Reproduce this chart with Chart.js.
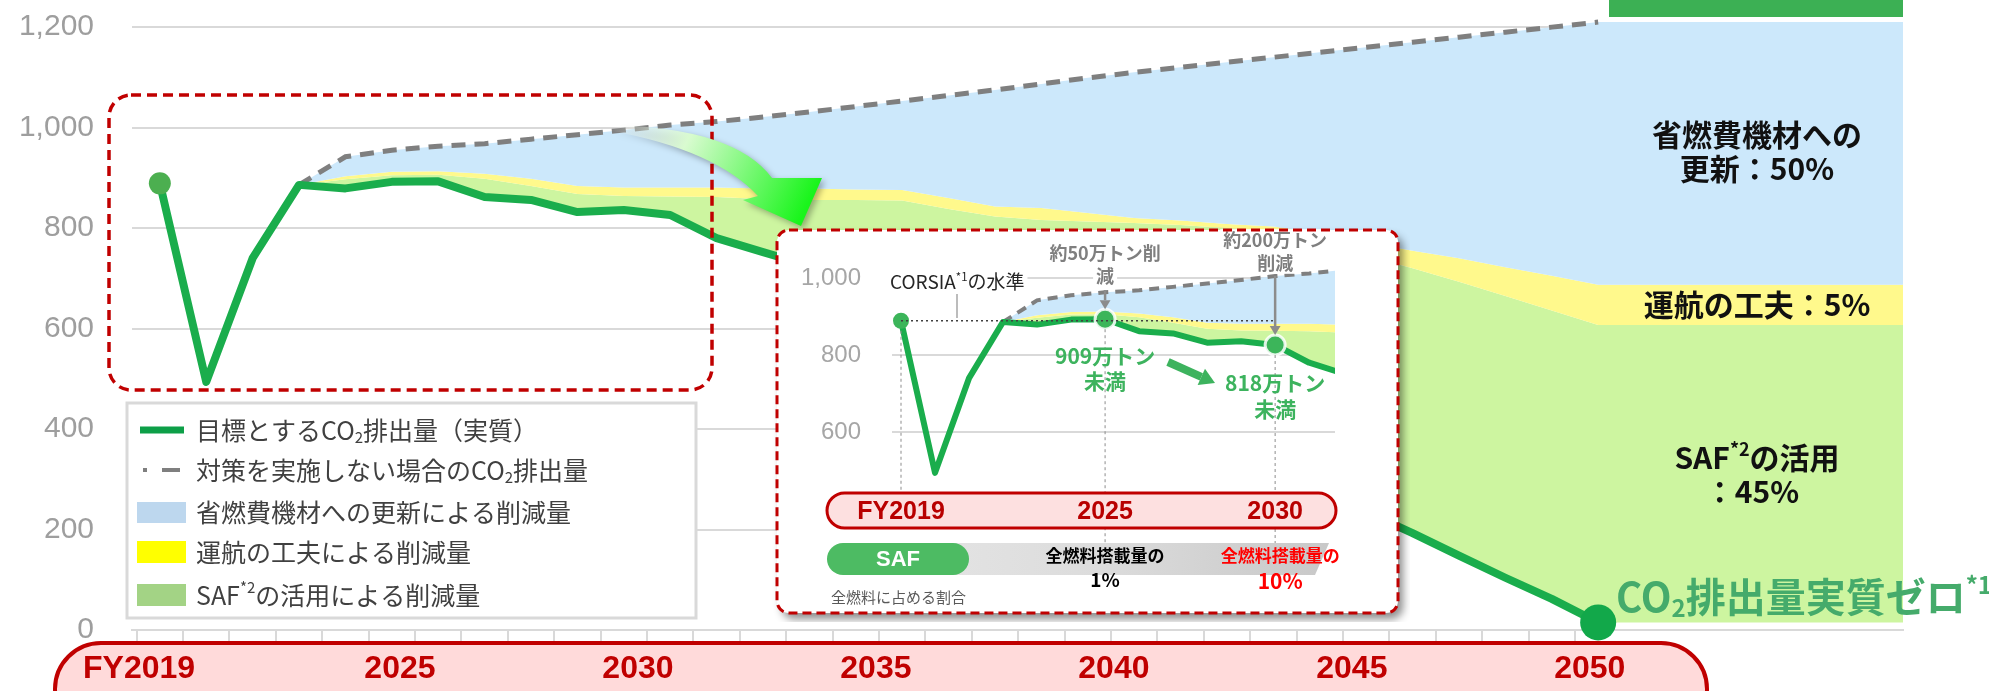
<!DOCTYPE html>
<html lang="ja">
<head>
<meta charset="UTF-8">
<title>CO2排出量削減の道筋</title>
<script src="https://cdn.jsdelivr.net/npm/chart.js"></script>
<style>
  html, body { margin: 0; padding: 0; background: #fff; overflow: hidden; }
  #wrap { position: relative; width: 1989px; height: 691px; }
  #mainChart { position: absolute; left: 0; top: 0; }
  #insetChart { position: absolute; left: 770px; top: 222px; }
</style>
</head>
<body>
<div id="wrap">
  <canvas id="mainChart" width="1989" height="691"></canvas>
  <canvas id="insetChart" width="640" height="400"></canvas>
</div>
<script>
// 年度（万トン単位の値）
const YEARS = [2019, 2020, 2021, 2022, 2023, 2024, 2025, 2026, 2027, 2028, 2029, 2030, 2031, 2032, 2033, 2034,
  2035, 2036, 2037, 2038, 2039, 2040, 2041, 2042, 2043, 2044, 2045, 2046, 2047, 2048, 2049, 2050];
// 目標とするCO2排出量（実質）
const NET = [889, 494, 740, 886, 879, 892, 893, 862, 856, 832, 836, 826, 780, 752, 725, 700,
  668, 630, 590, 545, 500, 455, 410, 365, 318, 272, 235, 193, 148, 104, 62, 15];
// 2022年度以降の削減帯
const BAND_YEARS = YEARS.slice(3);
const SAF_TOP = [886, 897, 905, 906, 898, 884, 868, 864, 863, 862, 858, 856, 856, 855, 838, 823, 816, 813, 810,
  806, 800, 793, 775, 745, 720, 693, 665, 636, 607];
const YEL_TOP = [886, 903, 912, 913, 908, 898, 884, 881, 881, 881, 879, 879, 877, 876, 860, 843, 840, 830, 820,
  815, 808, 803, 790, 772, 755, 740, 722, 705, 687];
// 対策を実施しない場合のCO2排出量
const BAU = [886, 942, 955, 963, 968, 977, 986, 995, 1005, 1012, 1021, 1031, 1042, 1053, 1064, 1075, 1087, 1099,
  1110, 1120, 1130, 1140, 1150, 1160, 1170, 1180, 1190, 1200, 1210];

const Y_TICKS = [0, 200, 400, 600, 800, 1000, 1200];
const AXIS_YEARS = [2019, 2025, 2030, 2035, 2040, 2045, 2050];
const AXIS_LABELS = ['FY2019', '2025', '2030', '2035', '2040', '2045', '2050'];
const INSET_Y_TICKS = [600, 800, 1000];
const INSET_YEARS = [2019, 2025, 2030];
const INSET_LABELS = ['FY2019', '2025', '2030'];
const CORSIA_END = 2030;

const LEGEND_TEXT = [
  ['目標とするCO', '_2', '排出量（実質）'],
  ['対策を実施しない場合のCO', '_2', '排出量'],
  ['省燃費機材への更新による削減量'],
  ['運航の工夫による削減量'],
  ['SAF', '^*2', 'の活用による削減量']
];

// 軸の範囲
const X_MIN = 2018.4, X_MAX = 2056.57;
const XB_MIN = 2019.37, XB_MAX = 2056.58;
const Y_MAX = 1254;

const JP = '"Noto Sans CJK JP", "Noto Sans", sans-serif';
const LAT = '"Liberation Sans", Arial, sans-serif';
const C = {
  net: '#1aad4c', bau: '#7f7f7f', blue: '#cce8fb', yellow: '#fff98c', saf: '#cdf5a0',
  red: '#c00000', grid: '#d9d9d9', tick: '#9e9e9e', green: '#3db35e'
};

function pts(xs, ys) { return xs.map((x, i) => ({ x: x, y: ys[i] })); }
// 2050年度以降は右端まで同じ値で塗る
function areaData(vals) { return pts(BAND_YEARS, vals).concat([{ x: X_MAX, y: vals[vals.length - 1] }]); }

function rr(ctx, x, y, w, h, r) {
  ctx.beginPath();
  ctx.moveTo(x + r, y);
  ctx.arcTo(x + w, y, x + w, y + h, r);
  ctx.arcTo(x + w, y + h, x, y + h, r);
  ctx.arcTo(x, y + h, x, y, r);
  ctx.arcTo(x, y, x + w, y, r);
  ctx.closePath();
}

// 下付き(_)・上付き(^)を含む文字列
function rich(ctx, parts, x, y, size, o) {
  const weight = o.weight || 'normal', family = o.family || JP;
  const pcs = parts.map(p => {
    if (p[0] === '_') return { t: p.slice(1), s: size * 0.6, dy: size * 0.28 };
    if (p[0] === '^') return { t: p.slice(1), s: size * 0.6, dy: -size * 0.3 };
    return { t: p, s: size, dy: 0 };
  });
  let w = 0;
  pcs.forEach(p => { ctx.font = weight + ' ' + p.s + 'px ' + family; p.w = ctx.measureText(p.t).width; w += p.w; });
  let cx = o.align === 'center' ? x - w / 2 : x;
  if (o.bg) { ctx.fillStyle = o.bg; ctx.fillRect(cx - 3, y - size * 0.6, w + 6, size * 1.2); }
  ctx.textAlign = 'left';
  ctx.textBaseline = 'middle';
  ctx.fillStyle = o.color;
  pcs.forEach(p => { ctx.font = weight + ' ' + p.s + 'px ' + family; ctx.fillText(p.t, cx, y + p.dy); cx += p.w; });
}

function arrow(ctx, x1, y1, x2, y2, w, head, color) {
  const a = Math.atan2(y2 - y1, x2 - x1);
  const bx = x2 - head * Math.cos(a), by = y2 - head * Math.sin(a);
  ctx.strokeStyle = color; ctx.fillStyle = color; ctx.lineWidth = w;
  ctx.beginPath(); ctx.moveTo(x1, y1); ctx.lineTo(bx, by); ctx.stroke();
  ctx.beginPath(); ctx.moveTo(x2, y2);
  ctx.lineTo(bx + head * 0.6 * Math.sin(a), by - head * 0.6 * Math.cos(a));
  ctx.lineTo(bx - head * 0.6 * Math.sin(a), by + head * 0.6 * Math.cos(a));
  ctx.closePath(); ctx.fill();
}

function buildDatasets(s) {
  const clear = 'rgba(0,0,0,0)';
  return [
    { data: areaData(NET.slice(3)), borderColor: clear, pointRadius: 0, fill: false, order: 10 },
    { data: areaData(SAF_TOP), borderColor: clear, backgroundColor: C.saf, pointRadius: 0, fill: '-1', order: 9 },
    { data: areaData(YEL_TOP), borderColor: clear, backgroundColor: C.yellow, pointRadius: 0, fill: '-1', order: 8 },
    { data: areaData(BAU), borderColor: clear, backgroundColor: C.blue, pointRadius: 0, fill: '-1', order: 7 },
    { data: pts(BAND_YEARS, BAU), borderColor: C.bau, borderWidth: s.bauW, borderDash: s.dash,
      pointRadius: 0, fill: false, order: 2 },
    { data: pts(YEARS, NET), borderColor: C.net, borderWidth: s.netW, borderJoinStyle: 'round',
      pointRadius: s.radius, pointBackgroundColor: s.pointColor, pointBorderColor: 'rgba(255,255,255,0.85)',
      pointBorderWidth: s.pointBorder, fill: false, order: 1, clip: s.clip }
  ];
}

// ---------- メインのグラフ ----------
const mainOverlay = {
  id: 'mainOverlay',
  afterDraw(chart) {
    const ctx = chart.ctx;
    const xb = chart.scales.xb;
    ctx.save();

    // 拡大部分の枠
    ctx.setLineDash([10, 6]); ctx.lineWidth = 3.5; ctx.strokeStyle = C.red;
    rr(ctx, 109, 95, 603, 295, 22); ctx.stroke();
    ctx.setLineDash([]);

    // 凡例
    ctx.fillStyle = '#fff'; ctx.fillRect(127, 403, 569, 215);
    ctx.strokeStyle = '#d9d9d9'; ctx.lineWidth = 3; ctx.strokeRect(127, 403, 569, 215);
    ctx.strokeStyle = '#0d9f48'; ctx.lineWidth = 7;
    ctx.beginPath(); ctx.moveTo(140, 430); ctx.lineTo(184, 430); ctx.stroke();
    ctx.fillStyle = C.bau; ctx.fillRect(143, 468, 4, 4);
    ctx.strokeStyle = C.bau; ctx.lineWidth = 4;
    ctx.beginPath(); ctx.moveTo(162, 470); ctx.lineTo(180, 470); ctx.stroke();
    ctx.fillStyle = '#bdd7ee'; ctx.fillRect(137, 502, 49, 21);
    ctx.fillStyle = '#ffff00'; ctx.fillRect(137, 541, 49, 22);
    ctx.fillStyle = '#a3d385'; ctx.fillRect(137, 584, 49, 22);
    [430, 470, 512, 552, 595].forEach((y, i) => rich(ctx, LEGEND_TEXT[i], 196, y, 25, { color: '#404040' }));

    // 年度の帯
    rr(ctx, 55, 643, 1652, 92, 46);
    ctx.fillStyle = '#ffdada'; ctx.fill();
    ctx.lineWidth = 4; ctx.strokeStyle = C.red; ctx.stroke();
    ctx.font = 'bold 32px ' + LAT; ctx.fillStyle = '#c00000';
    ctx.textAlign = 'center'; ctx.textBaseline = 'middle';
    AXIS_YEARS.forEach((yr, i) => {
      const w = ctx.measureText(AXIS_LABELS[i]).width;
      const x = Math.max(xb.getPixelForValue(yr), 83 + w / 2);
      ctx.fillText(AXIS_LABELS[i], x, 669);
    });

    // 右上の緑の見出し（上が切れている）
    ctx.fillStyle = '#3cb054'; ctx.fillRect(1609, 0, 294, 17);

    // 右側の内訳
    const b = { weight: 'bold', color: '#111', align: 'center' };
    rich(ctx, ['省燃費機材への'], 1757, 135, 30, b);
    rich(ctx, ['更新：50%'], 1757, 169, 30, b);
    rich(ctx, ['運航の工夫：5%'], 1757, 305, 30, b);
    rich(ctx, ['SAF', '^*2', 'の活用'], 1757, 458, 30, b);
    rich(ctx, ['：45%'], 1752, 492, 30, b);
    rich(ctx, ['CO', '_2', '排出量実質ゼロ', '^*1'], 1616, 597, 40, { weight: 'bold', color: '#45ab6b' });

    // 拡大図への矢印
    const g = ctx.createLinearGradient(612, 128, 800, 220);
    g.addColorStop(0, 'rgba(255,255,255,0)');
    g.addColorStop(0.35, '#d9fbd0');
    g.addColorStop(1, '#19f51b');
    ctx.shadowColor = 'rgba(0,0,0,0.3)'; ctx.shadowBlur = 6; ctx.shadowOffsetX = 3; ctx.shadowOffsetY = 3;
    ctx.beginPath();
    ctx.moveTo(612, 125);
    ctx.quadraticCurveTo(735, 128, 772, 178);
    ctx.lineTo(822, 178);
    ctx.lineTo(801, 226);
    ctx.lineTo(743, 200);
    ctx.lineTo(758, 196);
    ctx.quadraticCurveTo(715, 150, 612, 131);
    ctx.closePath();
    ctx.fillStyle = g; ctx.fill();
    ctx.restore();
  }
};

const last = YEARS.length - 1;
new Chart(document.getElementById('mainChart').getContext('2d'), {
  type: 'line',
  data: {
    datasets: buildDatasets({
      bauW: 5, dash: [14, 9], netW: 8, clip: false,
      radius: YEARS.map((y, i) => i === 0 ? 11 : (i === last ? 18 : 0)),
      pointColor: YEARS.map((y, i) => i === 0 ? '#4caf50' : '#12a84a'),
      pointBorder: 0
    })
  },
  options: {
    responsive: false, animation: false, devicePixelRatio: 1, events: [],
    layout: { autoPadding: false, padding: { left: 0, right: 86, top: 0, bottom: 0 } },
    plugins: { legend: { display: false }, tooltip: { enabled: false } },
    scales: {
      x: {
        type: 'linear', min: X_MIN, max: X_MAX,
        afterBuildTicks: s => { s.ticks = YEARS.map(y => ({ value: y - 0.5 })); },
        afterFit: s => { s.height = 61; s.paddingLeft = 0; s.paddingRight = 0; },
        grid: { drawOnChartArea: false, color: C.grid, lineWidth: 2, tickLength: 11 },
        border: { color: C.grid, width: 2 },
        ticks: { callback: () => '', autoSkip: false, maxRotation: 0 }
      },
      xb: {
        type: 'linear', display: false, position: 'bottom', min: XB_MIN, max: XB_MAX,
        ticks: { display: false },
        afterFit: s => { s.height = 0; s.paddingLeft = 0; s.paddingRight = 0; }
      },
      y: {
        min: 0, max: Y_MAX,
        afterBuildTicks: s => { s.ticks = Y_TICKS.map(v => ({ value: v })); },
        afterFit: s => { s.width = 132; s.paddingTop = 0; s.paddingBottom = 0; },
        grid: { color: C.grid, lineWidth: 2, drawTicks: false },
        border: { display: false },
        ticks: { padding: 38, color: C.tick, font: { family: LAT, size: 30 },
          callback: v => v.toLocaleString('en-US') }
      }
    }
  },
  plugins: [mainOverlay]
});

// ---------- 2030年度までの拡大図 ----------
const insetOverlay = {
  id: 'insetOverlay',
  beforeDraw(chart) {
    const ctx = chart.ctx;
    ctx.save();
    ctx.shadowColor = 'rgba(0,0,0,0.45)'; ctx.shadowBlur = 8; ctx.shadowOffsetX = 5; ctx.shadowOffsetY = 6;
    rr(ctx, 7, 8, 621, 383, 12); ctx.fillStyle = '#fff'; ctx.fill();
    ctx.restore();
  },
  afterDraw(chart) {
    const ctx = chart.ctx;
    const xs = chart.scales.x, ys = chart.scales.y;
    const px = INSET_YEARS.map(y => xs.getPixelForValue(y));
    const py = INSET_YEARS.map(y => ys.getPixelForValue(NET[YEARS.indexOf(y)]));
    ctx.save();

    // 縦の補助線
    ctx.setLineDash([3, 3]); ctx.lineWidth = 1; ctx.strokeStyle = '#8c8c8c';
    px.forEach((x, i) => {
      ctx.beginPath(); ctx.moveTo(x, py[i] + 10); ctx.lineTo(x, i === 0 ? 272 : 331); ctx.stroke();
    });
    ctx.setLineDash([]);

    // CORSIAの水準
    rich(ctx, ['CORSIA', '^*1', 'の水準'], 120, 60, 19, { color: '#262626', bg: '#fff' });
    ctx.strokeStyle = '#a6a6a6'; ctx.lineWidth = 1.5;
    ctx.beginPath(); ctx.moveTo(187, 72); ctx.lineTo(187, 96); ctx.stroke();

    // 削減量の注記
    const gray = { weight: 'bold', color: '#7f7f7f', align: 'center', bg: '#fff' };
    rich(ctx, ['約50万トン削'], px[1], 31, 18, gray);
    rich(ctx, ['減'], px[1], 54, 18, gray);
    rich(ctx, ['約200万トン'], px[2], 18, 18, gray);
    rich(ctx, ['削減'], px[2], 41, 18, gray);
    arrow(ctx, px[1], 68, px[1], py[1] - 10, 2.5, 9, '#8c8c8c');
    arrow(ctx, px[2], 54, px[2], py[2] - 10, 2.5, 9, '#8c8c8c');

    const gr = { weight: 'bold', color: C.green, align: 'center' };
    rich(ctx, ['909万トン'], px[1], 134, 21, gr);
    rich(ctx, ['未満'], px[1], 159, 21, gr);
    rich(ctx, ['818万トン'], px[2], 161, 21, gr);
    rich(ctx, ['未満'], px[2], 187, 21, gr);
    arrow(ctx, 398, 140, 445, 161, 8, 15, C.green);

    // 年度の帯
    rr(ctx, 57, 271, 509, 35, 17.5);
    ctx.fillStyle = '#fde0e0'; ctx.fill();
    ctx.lineWidth = 3; ctx.strokeStyle = C.red; ctx.stroke();
    ctx.font = 'bold 25px ' + LAT; ctx.fillStyle = '#b80000';
    ctx.textAlign = 'center'; ctx.textBaseline = 'middle';
    INSET_LABELS.forEach((t, i) => ctx.fillText(t, px[i], 290));

    // SAFの割合
    const g = ctx.createLinearGradient(100, 0, 560, 0);
    g.addColorStop(0, '#e6e6e6'); g.addColorStop(0.5, '#dcdcdc'); g.addColorStop(1, '#c8c8c8');
    ctx.beginPath();
    ctx.moveTo(100, 321); ctx.lineTo(559, 321); ctx.lineTo(545, 353); ctx.lineTo(100, 353); ctx.closePath();
    ctx.fillStyle = g; ctx.fill();
    rr(ctx, 57, 321, 142, 32, 16); ctx.fillStyle = '#4dbb63'; ctx.fill();
    ctx.font = 'bold 22px ' + LAT; ctx.fillStyle = '#fff';
    ctx.fillText('SAF', 128, 338);
    rich(ctx, ['全燃料搭載量の'], px[1], 334, 17, { weight: 'bold', color: '#000', align: 'center' });
    rich(ctx, ['1%'], px[1], 358, 19, { weight: 'bold', color: '#000', align: 'center' });
    rich(ctx, ['全燃料搭載量の'], px[2] + 5, 334, 17, { weight: 'bold', color: '#ff0000', align: 'center' });
    rich(ctx, ['10%'], px[2] + 5, 359, 21, { weight: 'bold', color: '#ff0000', align: 'center' });
    rich(ctx, ['全燃料に占める割合'], 61, 375, 15, { color: '#595959' });

    // 枠線
    ctx.setLineDash([9, 5]); ctx.lineWidth = 3; ctx.strokeStyle = C.red;
    rr(ctx, 7, 8, 621, 383, 12); ctx.stroke();
    ctx.restore();
  }
};

const insetDatasets = buildDatasets({
  bauW: 4, dash: [10, 7], netW: 6, clip: undefined,
  radius: YEARS.map(y => y === 2019 ? 8 : (INSET_YEARS.includes(y) ? 10 : 0)),
  pointColor: '#3cb55a',
  pointBorder: YEARS.map(y => y === 2019 ? 0 : 3)
});
insetDatasets.push({
  data: [{ x: YEARS[0], y: NET[0] }, { x: CORSIA_END, y: NET[0] }],
  borderColor: '#404040', borderWidth: 1.5, borderDash: [2, 3], pointRadius: 0, fill: false, order: 0
});

new Chart(document.getElementById('insetChart').getContext('2d'), {
  type: 'line',
  data: { datasets: insetDatasets },
  options: {
    responsive: false, animation: false, devicePixelRatio: 1, events: [],
    layout: { autoPadding: false, padding: { left: 0, right: 75, top: 26, bottom: 138 } },
    plugins: { legend: { display: false }, tooltip: { enabled: false } },
    scales: {
      x: { type: 'linear', display: false, min: 2018.735, max: 2031.76,
        afterFit: s => { s.height = 0; s.paddingLeft = 0; s.paddingRight = 0; } },
      y: {
        min: 465, max: 1078,
        afterBuildTicks: s => { s.ticks = INSET_Y_TICKS.map(v => ({ value: v })); },
        afterFit: s => { s.width = 122; s.paddingTop = 0; s.paddingBottom = 0; },
        grid: { color: C.grid, lineWidth: 2, drawTicks: false },
        border: { display: false },
        ticks: { padding: 31, color: '#a6a6a6', font: { family: LAT, size: 24 },
          callback: v => v.toLocaleString('en-US') }
      }
    }
  },
  plugins: [insetOverlay]
});
</script>
</body>
</html>
